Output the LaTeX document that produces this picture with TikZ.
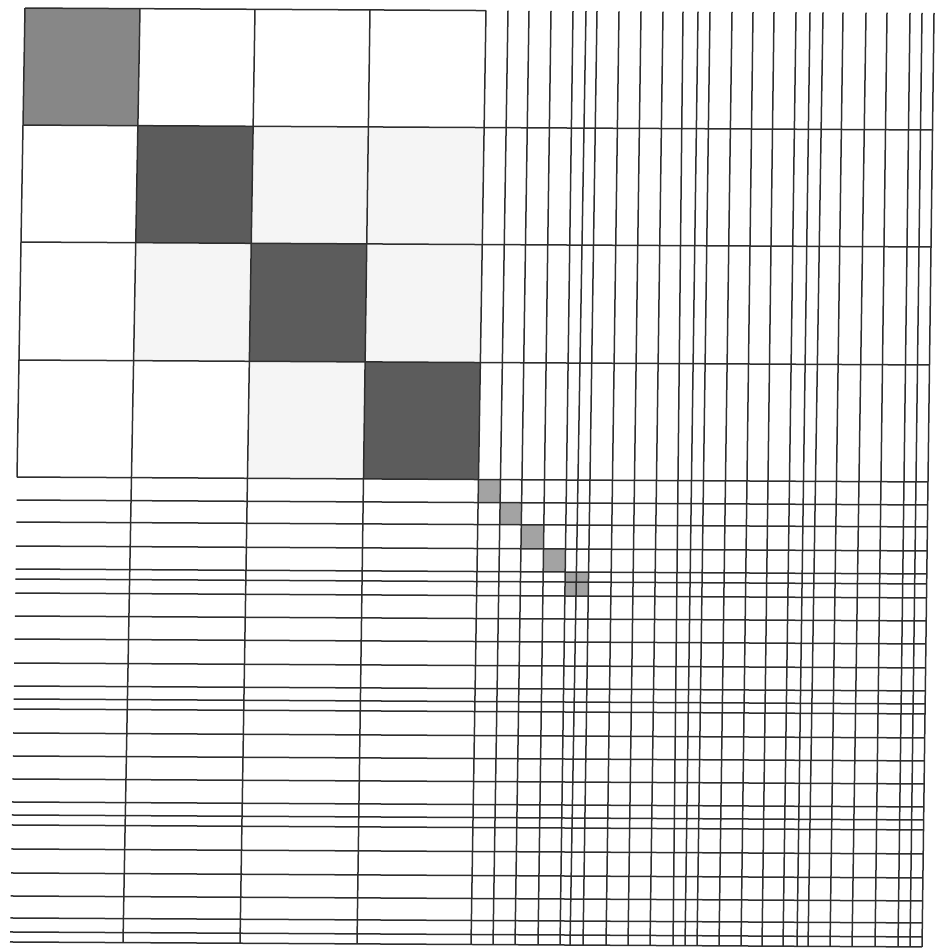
\documentclass[tikz,border=0pt]{standalone}
\newcommand\qfill[7]{%
 \pgfmathsetmacro\qxa{#2+(#3-#2)*(#6-8)/934}\pgfmathsetmacro\qya{#6+5*(\qxa-15)/919}%
 \pgfmathsetmacro\qxb{#4+(#5-#4)*(#6-8)/934}\pgfmathsetmacro\qyb{#6+5*(\qxb-15)/919}%
 \pgfmathsetmacro\qxc{#4+(#5-#4)*(#7-8)/934}\pgfmathsetmacro\qyc{#7+5*(\qxc-15)/919}%
 \pgfmathsetmacro\qxd{#2+(#3-#2)*(#7-8)/934}\pgfmathsetmacro\qyd{#7+5*(\qxd-15)/919}%
 \fill[#1] (\qxa,\qya) -- (\qxb,\qyb) -- (\qxc,\qyc) -- (\qxd,\qyd) -- cycle;}
\begin{document}
\begin{tikzpicture}[x=1pt,y=-1pt,
  gl/.style={draw=black!82, line width=1.5pt},
  darkfill/.style={fill=black!64},
  firstfill/.style={fill=black!47},
  lightfill/.style={fill=black!4},
  smallfill/.style={fill=black!36}]
\useasboundingbox (0,0) rectangle (936,949);
\fill[white] (0,0) rectangle (936,949);
% light off-diagonal blocks
\qfill{lightfill}{255}{240}{370}{357}{125}{242}
\qfill{lightfill}{370}{357}{486}{471}{125}{242}
\qfill{lightfill}{140}{123}{255}{240}{242}{360}
\qfill{lightfill}{370}{357}{486}{471}{242}{360}
\qfill{lightfill}{255}{240}{370}{357}{360}{477}
% dark diagonal blocks
\qfill{firstfill}{25}{9}{140}{123}{8}{125}
\qfill{darkfill}{140}{123}{255}{240}{125}{242}
\qfill{darkfill}{255}{240}{370}{357}{242}{360}
\qfill{darkfill}{370}{357}{486}{471}{360}{477}
% small diagonal cells
\qfill{smallfill}{486}{471}{508}{493}{477}{500}
\qfill{smallfill}{508}{493}{529}{515}{500}{522}
\qfill{smallfill}{529}{515}{551}{538}{522}{546}
\qfill{smallfill}{551}{538}{573}{560}{546}{569}
\qfill{smallfill}{573}{560}{597}{583}{569}{593}
% frame of the block part
\coordinate (tl) at (25,8.05);
\coordinate (tr) at (486,10.56);
\coordinate (bl) at (17,477.01);
\draw[gl] (tl) -- (tr);
\draw[gl] (tl) -- (bl);
% vertical lines through the big blocks and the right part
\foreach \t/\b in {140/123, 255/240, 370/357, 486/471,
  508/493, 529/515, 551/538, 573/560, 586/570, 597/583,
  619/606, 641/628, 663/650, 683/673, 698/685, 710/697,
  732/719, 753/741, 774/762, 796/783, 810/797, 823/808,
  843/830, 866/852, 887/875, 910/898, 922/910, 934/922}{
  \pgfmathsetmacro\ya{8+5*(\t-15)/919}
  \pgfmathsetmacro\yb{942+5*(\b-15)/919}
  \draw[gl] (\t,\ya) -- (\b,\yb);
}
% horizontal lines of the block rows
\foreach \y in {125,242,360,477}{
  \pgfmathsetmacro\xl{25-(\y-8)*8/469}
  \pgfmathsetmacro\xr{934-(\y-10)*12/932}
  \pgfmathsetmacro\yl{\y+5*(\xl-15)/919}
  \pgfmathsetmacro\yr{\y+5*(\xr-15)/919}
  \draw[gl] (\xl,\yl) -- (\xr,\yr);
}
% horizontal lines of the lower part
\foreach \y in {500,522,546,569,579,593,616,639,663,686,699,709,
  733,756,779,802,815,825,849,873,896,918,932,942}{
  \pgfmathsetmacro\xl{17-(\y-477)*7/465}
  \pgfmathsetmacro\xr{934-(\y-10)*12/932}
  \pgfmathsetmacro\yl{\y+5*(\xl-15)/919}
  \pgfmathsetmacro\yr{\y+5*(\xr-15)/919}
  \draw[gl] (\xl,\yl) -- (\xr,\yr);
}
\end{tikzpicture}
\end{document}
